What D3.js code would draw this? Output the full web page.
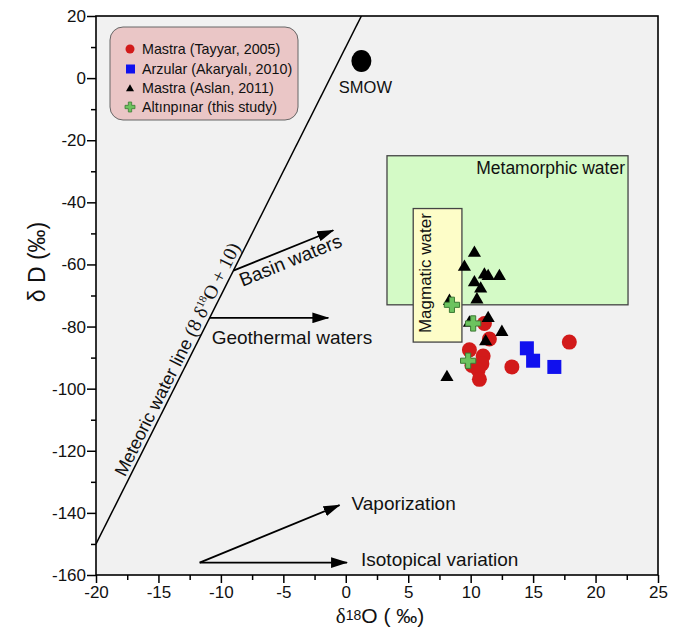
<!DOCTYPE html>
<html>
<head>
<meta charset="utf-8">
<script src="https://cdn.jsdelivr.net/npm/d3@7"></script>
<style>
  body { margin: 0; background: #fff; }
  svg text { font-family: "Liberation Sans", Arial, sans-serif; fill: #111; }
  .axis path, .axis line { stroke: #000; stroke-width: 1.5; }
  .axis text { font-size: 17px; fill: #111; }
</style>
</head>
<body>
<div id="chart"></div>
<script>
// values
var redX = [11.1, 11.5, 9.9, 11.0, 10.1, 10.9, 10.6, 10.7, 13.3, 17.9];
var redY = [-79, -84, -87.5, -89.5, -92.5, -92, -94, -97, -93, -85];
var blueX = [14.5, 15.0, 16.7];
var blueY = [-87, -91, -93];
var triX = [10.3, 9.5, 11.1, 11.4, 12.3, 10.3, 10.8, 10.5, 8.3, 11.4, 9.9, 12.5, 11.2, 8.1];
var triY = [-56, -60.5, -63, -63.5, -63.5, -65.5, -67.5, -71, -71.5, -77, -78.5, -81.5, -84.5, -96];
var crossX = [8.5, 10.2, 9.8];
var crossY = [-73, -79, -91];
var smow = [1.25, 5.5];

var metamorphicBox = [3.3, 22.6, -25, -73];   // x0, x1, y0, y1
var magmaticBox = [5.4, 9.3, -42, -85];
var mwlX = [-20, 1.25];                         // dD = 8 d18O + 10

var legendLabels = ["Mastra (Tayyar, 2005)", "Arzular (Akaryalı, 2010)",
                    "Mastra (Aslan, 2011)", "Altınpınar (this study)"];

// arrows: [x0, y0, x1, y1]
var arrows = [
  [-9.0, -62, -1.0, -49],
  [-10.9, -77.2, -1.4, -77.2],
  [-11.7, -156, -0.5, -137.5],
  [-11.7, -156, 0.1, -156]
];

var xTicks = d3.range(-20, 26, 5);
var yTicks = d3.range(-160, 21, 20);

(function(){
  var W = 681, H = 635;
  var left = 96, right = 658, top = 16, bottom = 575;

  var svg = d3.select("#chart").append("svg")
      .attr("width", W).attr("height", H);

  var x = d3.scaleLinear().domain([-20, 25]).range([left, right]);
  var y = d3.scaleLinear().domain([-160, 20]).range([bottom, top]);

  var defs = svg.append("defs");
  defs.append("marker")
      .attr("id", "arrow")
      .attr("markerUnits", "userSpaceOnUse")
      .attr("viewBox", "0 0 16 10")
      .attr("refX", 15).attr("refY", 5)
      .attr("markerWidth", 17).attr("markerHeight", 11)
      .attr("orient", "auto")
      .append("path").attr("d", "M0,0 L16,5 L0,10 Z").attr("fill", "#000");
  defs.append("clipPath").attr("id", "plotclip")
      .append("rect").attr("x", left).attr("y", top)
      .attr("width", right - left).attr("height", bottom - top);

  //plot background
  svg.append("rect")
      .attr("x", left).attr("y", top)
      .attr("width", right - left).attr("height", bottom - top)
      .attr("fill", "#f1f1f1");

  //boxes
  svg.append("rect")
      .attr("x", x(metamorphicBox[0])).attr("y", y(metamorphicBox[2]))
      .attr("width", x(metamorphicBox[1]) - x(metamorphicBox[0]))
      .attr("height", y(metamorphicBox[3]) - y(metamorphicBox[2]))
      .attr("fill", "#d4fac6").attr("stroke", "#444").attr("stroke-width", 1.3);
  svg.append("text")
      .attr("x", x(metamorphicBox[1]) - 3).attr("y", y(metamorphicBox[2]) + 18)
      .attr("text-anchor", "end").style("font-size", "17.5px")
      .text("Metamorphic water");

  svg.append("rect")
      .attr("x", x(magmaticBox[0])).attr("y", y(magmaticBox[2]))
      .attr("width", x(magmaticBox[1]) - x(magmaticBox[0]))
      .attr("height", y(magmaticBox[3]) - y(magmaticBox[2]))
      .attr("fill", "#fdfdc8").attr("stroke", "#444").attr("stroke-width", 1.3);
  var mgx = x(magmaticBox[0]) + 18, mgy = y(magmaticBox[3]) - 9;
  svg.append("text")
      .attr("transform", "translate(" + mgx + "," + mgy + ") rotate(-90)")
      .style("font-size", "17px")
      .text("Magmatic water");

  //meteoric water line
  svg.append("line")
      .attr("clip-path", "url(#plotclip)")
      .attr("x1", x(mwlX[0])).attr("y1", y(8 * mwlX[0] + 10))
      .attr("x2", x(mwlX[1])).attr("y2", y(8 * mwlX[1] + 10))
      .attr("stroke", "#000").attr("stroke-width", 1.5);

  var angle = Math.atan2(y(18) - y(10), x(1) - x(0)) * 180 / Math.PI;
  var lx = x(-17.4), ly = y(8 * -17.4 + 10);
  var mwlText = svg.append("text")
      .attr("transform", "translate(" + lx + "," + ly + ") rotate(" + angle + ")")
      .attr("dy", -4)
      .style("font-size", "18px");
  mwlText.append("tspan").text("Meteoric water line ");
  var f = mwlText.append("tspan").style("font-family", "'Liberation Serif', 'Times New Roman', serif")
      .style("font-size", "19.5px");
  f.append("tspan").text("(8 δ");
  f.append("tspan").attr("dy", -7).style("font-size", "11px").text("18");
  f.append("tspan").attr("dy", 7).text("O + 10)");

  //arrows
  svg.selectAll(".arrow")
      .data(arrows)
      .enter()
      .append("line")
      .attr("class", "arrow")
      .attr("x1", function(d){ return x(d[0]); })
      .attr("y1", function(d){ return y(d[1]); })
      .attr("x2", function(d){ return x(d[2]); })
      .attr("y2", function(d){ return y(d[3]); })
      .attr("stroke", "#000").attr("stroke-width", 1.8)
      .attr("marker-end", "url(#arrow)");

  var bang = Math.atan2(y(arrows[0][3]) - y(arrows[0][1]), x(arrows[0][2]) - x(arrows[0][0])) * 180 / Math.PI;
  svg.append("text")
      .attr("transform", "translate(" + (x(arrows[0][0]) + 9) + "," + (y(arrows[0][1]) + 16) + ") rotate(" + bang + ")")
      .style("font-size", "19px")
      .text("Basin waters");
  svg.append("text")
      .attr("x", x(arrows[1][0]) + 2).attr("y", y(arrows[1][1]) + 26)
      .style("font-size", "19px")
      .text("Geothermal waters");
  svg.append("text")
      .attr("x", x(arrows[2][2]) + 12).attr("y", y(arrows[2][3]) + 5)
      .style("font-size", "19px")
      .text("Vaporization");
  svg.append("text")
      .attr("x", x(arrows[3][2]) + 14).attr("y", y(arrows[3][3]) + 3)
      .style("font-size", "19px")
      .text("Isotopical variation");

  //SMOW
  svg.append("ellipse")
      .attr("cx", x(smow[0])).attr("cy", y(smow[1]))
      .attr("rx", 10).attr("ry", 11).attr("fill", "#000");
  svg.append("text")
      .attr("x", x(smow[0]) + 4).attr("y", y(smow[1]) + 32)
      .attr("text-anchor", "middle").style("font-size", "16.5px")
      .text("SMOW");

  //data points
  var redData = redX.map(function(v, i){ return [v, redY[i]]; });
  var blueData = blueX.map(function(v, i){ return [v, blueY[i]]; });
  var triData = triX.map(function(v, i){ return [v, triY[i]]; });
  var crossData = crossX.map(function(v, i){ return [v, crossY[i]]; });

  var triangle = d3.symbol().type(d3.symbolTriangle).size(75);
  var crossPath = d3.symbol().type(d3.symbolCross).size(130);

  svg.selectAll(".red")
      .data(redData).enter().append("circle")
      .attr("class", "red")
      .attr("cx", function(d){ return x(d[0]); })
      .attr("cy", function(d){ return y(d[1]); })
      .attr("r", 7.5).attr("fill", "#d21a1a");

  svg.selectAll(".blue")
      .data(blueData).enter().append("rect")
      .attr("class", "blue")
      .attr("x", function(d){ return x(d[0]) - 7; })
      .attr("y", function(d){ return y(d[1]) - 7; })
      .attr("width", 14).attr("height", 14).attr("fill", "#1010ee");

  svg.selectAll(".tri")
      .data(triData).enter().append("path")
      .attr("class", "tri")
      .attr("d", triangle)
      .attr("transform", function(d){ return "translate(" + x(d[0]) + "," + (y(d[1]) + 1) + ")"; })
      .attr("fill", "#000");

  svg.selectAll(".cross")
      .data(crossData).enter().append("path")
      .attr("class", "cross")
      .attr("d", crossPath)
      .attr("transform", function(d){ return "translate(" + x(d[0]) + "," + y(d[1]) + ")"; })
      .attr("fill", "#6cc35e").attr("stroke", "#3d7a35").attr("stroke-width", 1);

  //legend
  var lg = svg.append("g").attr("transform", "translate(110,27)");
  lg.append("rect")
      .attr("width", 188).attr("height", 93).attr("rx", 13)
      .attr("fill", "#eac6c6").attr("stroke", "#666").attr("stroke-width", 1);
  var rows = [22, 42, 61, 80];
  lg.append("circle").attr("cx", 20).attr("cy", rows[0]).attr("r", 4.5).attr("fill", "#d21a1a");
  lg.append("rect").attr("x", 16).attr("y", rows[1] - 4.5).attr("width", 9).attr("height", 9).attr("fill", "#1010ee");
  lg.append("path").attr("d", d3.symbol().type(d3.symbolTriangle).size(28))
      .attr("transform", "translate(20," + (rows[2] + 1) + ")").attr("fill", "#000");
  lg.append("path").attr("d", d3.symbol().type(d3.symbolCross).size(55))
      .attr("transform", "translate(20," + rows[3] + ")")
      .attr("fill", "#6cc35e").attr("stroke", "#3d7a35").attr("stroke-width", 0.8);
  lg.selectAll(".lgtext")
      .data(legendLabels).enter().append("text")
      .attr("class", "lgtext")
      .attr("x", 32)
      .attr("y", function(d, i){ return rows[i] + 5; })
      .style("font-size", "14.3px")
      .text(function(d){ return d; });

  //axes
  var xAxis = d3.axisBottom(x).tickValues(d3.range(-20, 25.1, 2.5))
      .tickSize(7).tickPadding(4)
      .tickFormat(function(d){ return xTicks.indexOf(d) >= 0 ? d : ""; });
  var gx = svg.append("g").attr("class", "axis")
      .attr("transform", "translate(0," + bottom + ")")
      .call(xAxis);
  gx.selectAll(".tick line").attr("y2", function(d){ return xTicks.indexOf(d) >= 0 ? 8 : 5; });

  var yAxis = d3.axisLeft(y).tickValues(d3.range(-160, 20.1, 10))
      .tickSize(9).tickPadding(1)
      .tickFormat(function(d){ return yTicks.indexOf(d) >= 0 ? d : ""; });
  var gy = svg.append("g").attr("class", "axis")
      .attr("transform", "translate(" + left + ",0)")
      .call(yAxis);
  gy.selectAll(".tick line").attr("x2", function(d){ return yTicks.indexOf(d) >= 0 ? -9 : -5; });
  gy.select(".domain").remove();
  gx.select(".domain").remove();

  //frame
  svg.append("rect")
      .attr("x", left).attr("y", top)
      .attr("width", right - left).attr("height", bottom - top)
      .attr("fill", "none").attr("stroke", "#000").attr("stroke-width", 1.6);

  //axis titles
  var xt = svg.append("text")
      .attr("x", 380).attr("y", 623)
      .attr("text-anchor", "middle")
      .style("font-size", "21px")
      .style("font-family", "'Liberation Serif', 'Times New Roman', serif");
  xt.append("tspan").text("δ");
  xt.append("tspan").style("font-family", "'Liberation Sans', Arial, sans-serif").style("font-size", "14px").attr("dy", -3).text("18");
  xt.append("tspan").style("font-family", "'Liberation Sans', Arial, sans-serif").attr("dy", 3).text("O ( ‰)");

  svg.append("text")
      .attr("transform", "translate(45,262) rotate(-90)")
      .attr("text-anchor", "middle")
      .style("font-size", "23px")
      .text("δ D (‰)");
})();
</script>
</body>
</html>
